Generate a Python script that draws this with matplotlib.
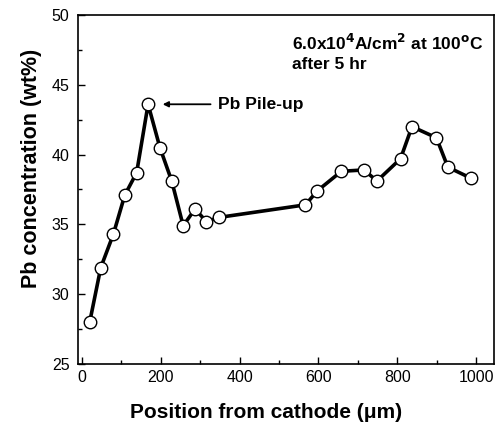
import matplotlib
matplotlib.use("Agg")
import matplotlib.pyplot as plt
from matplotlib.ticker import MultipleLocator

position_um = [20, 48, 80, 109, 139, 168, 198, 228, 257, 287, 316, 348,
               567, 597, 658, 716, 748, 808, 837, 899, 928, 987]
pb_wt = [28.0, 31.9, 34.3, 37.1, 38.7, 43.6, 40.5, 38.1, 34.9, 36.1, 35.2, 35.5,
         36.4, 37.4, 38.8, 38.9, 38.1, 39.7, 42.0, 41.2, 39.1, 38.3]
x_ticks = [0, 200, 400, 600, 800, 1000]
y_ticks = [25, 30, 35, 40, 45, 50]

plt.rcParams['font.family'] = ['Liberation Sans', 'DejaVu Sans']

fig = plt.figure(figsize=(4.96, 4.26), dpi=100)
ax = fig.add_axes([0.157, 0.1455, 0.839, 0.8195])

ax.plot(position_um, pb_wt, color='black', lw=2.6, marker='o', ms=9,
        mfc='white', mec='black', mew=1.0)

ax.set_xlim(-10, 1045)
ax.set_ylim(25, 50)
ax.set_xticks(x_ticks)
ax.set_yticks(y_ticks)
ax.xaxis.set_minor_locator(MultipleLocator(100))
ax.yaxis.set_minor_locator(MultipleLocator(2.5))
ax.tick_params(which='both', direction='in', top=False, right=False, labelsize=11.5)
ax.tick_params(which='major', length=5, width=1)
ax.tick_params(which='minor', length=3, width=1)
ax.tick_params(axis='y', pad=6)
ax.tick_params(axis='x', pad=4)
for s in ax.spines.values():
    s.set_linewidth(1.2)

fig.text(266 / 496, 1 - 413 / 426, 'Position from cathode (\u03bcm)', fontsize=15,
         fontweight='bold', ha='center', va='center')
fig.text(32 / 496, 1 - 168 / 426, 'Pb concentration (wt%)', fontsize=15.5,
         fontweight='bold', ha='center', va='center', rotation=90)

ax.text(0.514, 0.92, r'6.0x10$^\mathbf{4}$A/cm$^\mathbf{2}$ at 100$^\mathbf{o}$C',
        transform=ax.transAxes, fontsize=12.5, fontweight='bold', ha='left', va='center')
ax.text(0.514, 0.857, 'after 5 hr', transform=ax.transAxes, fontsize=12.5,
        fontweight='bold', ha='left', va='center')
ax.annotate('Pb Pile-up', xy=(205, 43.6), xytext=(344, 43.6),
            fontsize=12.5, fontweight='bold', ha='left', va='center',
            arrowprops=dict(arrowstyle='-|>', color='black', lw=1.3, mutation_scale=8,
                            shrinkA=3, shrinkB=0))

fig.savefig('out.png', dpi=100)
